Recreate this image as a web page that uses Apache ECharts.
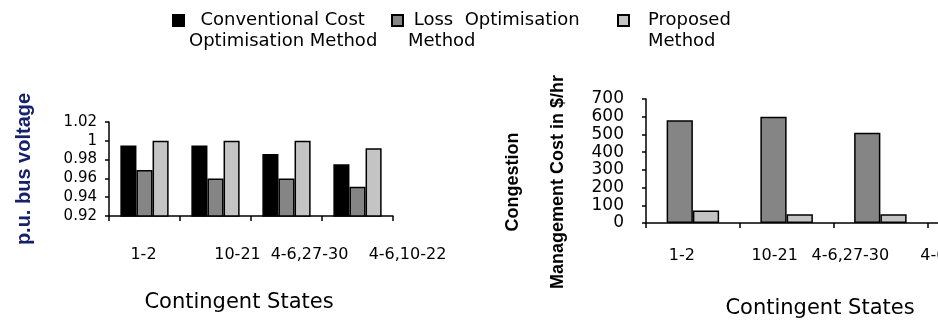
<!DOCTYPE html>
<html>
<head>
<meta charset="utf-8">
<script src="https://cdn.jsdelivr.net/npm/echarts@6/dist/echarts.min.js"></script>
<style>
html,body{margin:0;padding:0;background:#fff;}
#chart{width:938px;height:320px;}
</style>
</head>
<body>
<div id="chart"></div>
<script>
// ---- data ----
const categories = ['1-2', '10-21', '4-6,27-30', '4-6,10-22'];
const seriesNames = ['Conventional Cost Optimisation Method', 'Loss Optimisation Method', 'Proposed Method'];
const voltageConventional = [0.995, 0.995, 0.986, 0.975];
const voltageLoss = [0.969, 0.960, 0.960, 0.951];
const voltageProposed = [1.000, 1.000, 1.000, 0.992];
const costLoss = [580, 600, 510, null];
const costProposed = [70, 50, 50, null];
const voltageTitle = 'p.u. bus voltage';
const costTitle = 'Congestion\nManagement Cost in $/hr';
const xTitle = 'Contingent States';
const legendTexts = ['  Conventional Cost\nOptimisation Method', ' Loss  Optimisation\nMethod', 'Proposed\nMethod'];

// ---- layout helpers ----
const leftLabelShift = [-1, 22, 23, 50];
const rightLabelShift = [-11, -12, -30, -15];
function catData(shifts) {
  return categories.map((c, i) => {
    const s = shifts[i];
    return { value: c, textStyle: { padding: s >= 0 ? [0, 0, 0, 2 * s] : [0, -2 * s, 0, 0] } };
  });
}
const FONT = 'DejaVu Sans';
const axisLineStyle = { show: true, lineStyle: { color: '#000', width: 1.5 } };
const barBorder = { borderColor: '#000', borderWidth: 1.5 };
const colors = ['#000000', '#858585', '#c4c4c4'];

function legend(i, left, padLeft) {
  return {
    data: [seriesNames[i]],
    left: left, top: -11, padding: 0,
    icon: 'rect', itemWidth: 11, itemHeight: 11,
    selectedMode: false,
    // leading blank line keeps the first text line level with the icon
    formatter: () => '\n' + legendTexts[i],
    textStyle: { fontFamily: FONT, fontSize: 18, color: '#000', lineHeight: 21, padding: [0, 0, 0, padLeft] }
  };
}

const option = {
  animation: false,
  backgroundColor: '#fff',
  legend: [legend(0, 172, 0), legend(1, 391, 0), legend(2, 617, 14)],
  grid: [
    { left: 109, width: 284, top: 122, bottom: 104, containLabel: false, outerBoundsMode: 'none' },
    { left: 646, width: 375, top: 99, bottom: 97, containLabel: false, outerBoundsMode: 'none' }
  ],
  xAxis: [
    {
      type: 'category', gridIndex: 0, data: catData(leftLabelShift),
      axisLine: axisLineStyle,
      axisTick: { show: true, length: 5, lineStyle: { color: '#000', width: 1.5 } },
      axisLabel: { interval: 0, margin: 31, fontFamily: FONT, fontSize: 16, color: '#000' },
      name: xTitle, nameLocation: 'middle', nameGap: 76,
      nameTextStyle: { fontFamily: FONT, fontSize: 21, color: '#000', padding: [0, 24, 0, 0] }
    },
    {
      type: 'category', gridIndex: 1, data: catData(rightLabelShift),
      axisLine: axisLineStyle,
      axisTick: { show: true, length: 5, lineStyle: { color: '#000', width: 1.5 } },
      axisLabel: { interval: 0, margin: 25, fontFamily: FONT, fontSize: 16, color: '#000' },
      name: xTitle, nameLocation: 'middle', nameGap: 75,
      nameTextStyle: { fontFamily: FONT, fontSize: 21, color: '#000', padding: [0, 27, 0, 0] }
    }
  ],
  yAxis: [
    {
      type: 'value', gridIndex: 0, min: 0.92, max: 1.02, interval: 0.02,
      axisLine: axisLineStyle,
      axisTick: { show: true, length: 4, lineStyle: { color: '#000', width: 1.5 } },
      splitLine: { show: false },
      axisLabel: { margin: 12, fontFamily: FONT, fontSize: 15, color: '#000', lineHeight: 14,
        showMinLabel: true, showMaxLabel: true, hideOverlap: false,
        formatter: v => String(parseFloat(v.toFixed(2))) },
      name: voltageTitle, nameLocation: 'middle', nameGap: 75,
      nameTextStyle: { fontFamily: 'Liberation Sans', fontWeight: 'bold', fontSize: 20, color: '#16216b' }
    },
    {
      type: 'value', gridIndex: 1, min: 0, max: 700, interval: 100,
      axisLine: axisLineStyle,
      axisTick: { show: true, length: 4, lineStyle: { color: '#000', width: 1.5 } },
      splitLine: { show: false },
      axisLabel: { margin: 22, fontFamily: FONT, fontSize: 17, color: '#000', lineHeight: 14,
        showMinLabel: true, showMaxLabel: true, hideOverlap: false },
      name: costTitle, nameLocation: 'middle', nameGap: 65,
      nameTextStyle: { fontFamily: 'Liberation Sans', fontWeight: 'bold', fontSize: 18, color: '#000',
        lineHeight: 45, padding: [0, 42, 0, 0] }
    }
  ],
  series: [
    { type: 'bar', name: seriesNames[0], xAxisIndex: 0, yAxisIndex: 0, data: voltageConventional,
      barGap: '0%', barCategoryGap: '32%', itemStyle: Object.assign({ color: colors[0] }, barBorder) },
    { type: 'bar', name: seriesNames[1], xAxisIndex: 0, yAxisIndex: 0, data: voltageLoss,
      barGap: '0%', barCategoryGap: '32%', itemStyle: Object.assign({ color: colors[1] }, barBorder) },
    { type: 'bar', name: seriesNames[2], xAxisIndex: 0, yAxisIndex: 0, data: voltageProposed,
      barGap: '0%', barCategoryGap: '32%', itemStyle: Object.assign({ color: colors[2] }, barBorder) },
    { type: 'bar', name: seriesNames[1], xAxisIndex: 1, yAxisIndex: 1, data: costLoss,
      barGap: '0%', barCategoryGap: '44%', itemStyle: Object.assign({ color: colors[1] }, barBorder) },
    { type: 'bar', name: seriesNames[2], xAxisIndex: 1, yAxisIndex: 1, data: costProposed,
      barGap: '0%', barCategoryGap: '44%', itemStyle: Object.assign({ color: colors[2] }, barBorder) }
  ]
};

const chart = echarts.init(document.getElementById('chart'), null, { renderer: 'canvas' });
chart.setOption(option);
</script>
</body>
</html>
